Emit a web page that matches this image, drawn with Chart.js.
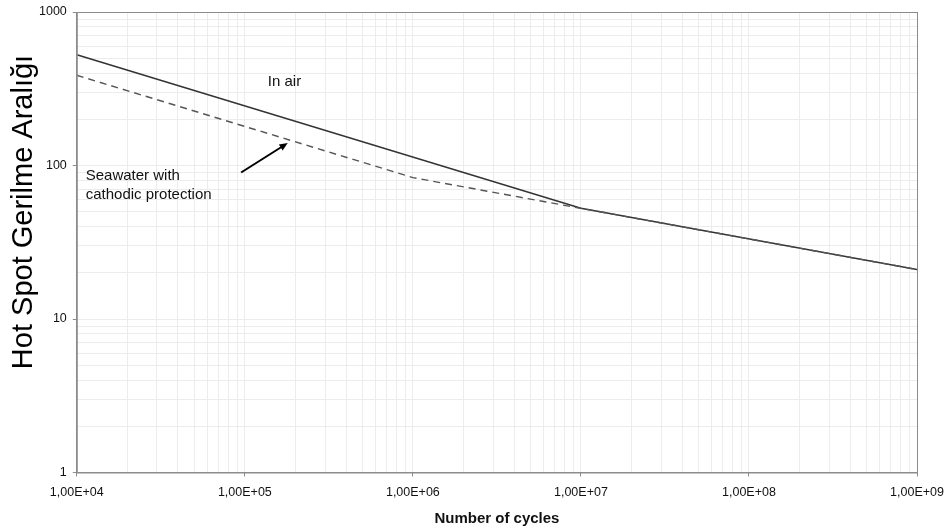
<!DOCTYPE html>
<html>
<head>
<meta charset="utf-8">
<script src="https://cdn.jsdelivr.net/npm/chart.js@4.4.1/dist/chart.umd.min.js"></script>
<style>
  html, body { margin: 0; padding: 0; background: #fff; }
  #wrap { width: 949px; height: 530px; }
</style>
</head>
<body>
<div id="wrap"><canvas id="myChart"></canvas></div>
<script>
// data (S-N curves, log-log)
const cyclesAir = [1e4, 1e7, 1e9];
const stressAir = [526, 52.6, 21];
const cyclesSea = [1e4, 1e6, 1e7, 1e9];
const stressSea = [387, 83.4, 52.6, 21];

const xDecades = [1e4, 1e5, 1e6, 1e7, 1e8, 1e9];
const xTickLabels = ['1,00E+04', '1,00E+05', '1,00E+06', '1,00E+07', '1,00E+08', '1,00E+09'];
const yDecades = [1, 10, 100, 1000];
const yTickLabels = ['1', '10', '100', '1000'];
const yTitle = 'Hot Spot Gerilme Aralığı';

// annotations, in data units
const airLabel = { text: 'In air', x: 1.37e5, y: 349 };
const seaLabel = { lines: ['Seawater with', 'cathodic protection'], x: 1.13e4, y: [85, 64] };
const arrowFrom = { x: 9.5e4, y: 90 };
const arrowTo = { x: 1.8e5, y: 140 };

const FONT = '"Liberation Sans", Arial, sans-serif';

function minorTicks(decades) {
    const out = [];
    for (let i = 0; i < decades.length; i++) {
        out.push({ value: decades[i] });
        if (i < decades.length - 1) {
            for (let k = 2; k <= 9; k++) out.push({ value: decades[i] * k });
        }
    }
    return out;
}

function isDecade(v) {
    const l = Math.log10(v);
    return Math.abs(l - Math.round(l)) < 1e-9;
}

const annotations = {
    id: 'annotations',
    afterDatasetsDraw(chart) {
        const ctx = chart.ctx;
        const xs = chart.scales.x, ys = chart.scales.y;
        const a = chart.chartArea;
        ctx.save();
        // plot frame
        ctx.strokeStyle = '#8c8c8c';
        ctx.lineWidth = 1;
        ctx.strokeRect(a.left + 0.5, a.top + 0.5, a.right - a.left, a.bottom - a.top);

        ctx.fillStyle = '#111';
        ctx.font = '15px ' + FONT;
        ctx.textBaseline = 'middle';
        ctx.textAlign = 'left';
        ctx.fillText(airLabel.text, xs.getPixelForValue(airLabel.x), ys.getPixelForValue(airLabel.y));
        seaLabel.lines.forEach((t, i) => {
            ctx.fillText(t, xs.getPixelForValue(seaLabel.x), ys.getPixelForValue(seaLabel.y[i]));
        });

        // arrow
        const x1 = xs.getPixelForValue(arrowFrom.x), y1 = ys.getPixelForValue(arrowFrom.y);
        const x2 = xs.getPixelForValue(arrowTo.x), y2 = ys.getPixelForValue(arrowTo.y);
        const ang = Math.atan2(y2 - y1, x2 - x1);
        ctx.strokeStyle = '#000';
        ctx.lineWidth = 2;
        ctx.beginPath();
        ctx.moveTo(x1, y1);
        ctx.lineTo(x2 - 6 * Math.cos(ang), y2 - 6 * Math.sin(ang));
        ctx.stroke();
        ctx.fillStyle = '#000';
        ctx.beginPath();
        ctx.moveTo(x2, y2);
        ctx.lineTo(x2 - 9 * Math.cos(ang - 0.4), y2 - 9 * Math.sin(ang - 0.4));
        ctx.lineTo(x2 - 9 * Math.cos(ang + 0.4), y2 - 9 * Math.sin(ang + 0.4));
        ctx.closePath();
        ctx.fill();

        // y axis title (sits a bit above centre, like the original)
        ctx.translate(32, 212);
        ctx.rotate(-Math.PI / 2);
        ctx.font = '29px ' + FONT;
        ctx.fillStyle = '#000';
        ctx.textAlign = 'center';
        ctx.textBaseline = 'alphabetic';
        ctx.fillText(yTitle, 0, 0);
        ctx.restore();
    }
};

const tickFont = { family: FONT, size: 12.5 };

new Chart(document.getElementById('myChart'), {
    type: 'line',
    data: {
        datasets: [{
            label: 'Seawater with cathodic protection',
            data: cyclesSea.map((c, i) => ({ x: c, y: stressSea[i] })),
            borderColor: '#555',
            borderWidth: 1.4,
            borderDash: [7, 5],
            pointRadius: 0,
            tension: 0
        }, {
            label: 'In air',
            data: cyclesAir.map((c, i) => ({ x: c, y: stressAir[i] })),
            borderColor: '#333',
            borderWidth: 1.5,
            pointRadius: 0,
            tension: 0
        }]
    },
    options: {
        responsive: true,
        maintainAspectRatio: false,
        animation: false,
        layout: { padding: { top: 12, right: 32, left: 33, bottom: 2.5 } },
        plugins: {
            legend: { display: false },
            tooltip: { enabled: false }
        },
        scales: {
            x: {
                type: 'logarithmic',
                min: 1e4,
                max: 1e9,
                afterBuildTicks: (s) => { s.ticks = minorTicks(xDecades); },
                afterFit: (s) => { s.paddingRight = 0; s.paddingLeft = 0; },
                ticks: {
                    autoSkip: false,
                    maxRotation: 0,
                    color: '#111',
                    font: tickFont,
                    padding: 8.5,
                    callback: (v) => {
                        const i = xDecades.indexOf(v);
                        return i >= 0 ? xTickLabels[i] : '';
                    }
                },
                grid: {
                    color: '#ececec',
                    tickLength: 4,
                    tickColor: (c) => (c.tick && isDecade(c.tick.value)) ? '#8c8c8c' : 'rgba(0,0,0,0)'
                },
                border: { color: '#8c8c8c' },
                title: {
                    display: true,
                    text: 'Number of cycles',
                    color: '#111',
                    font: { family: FONT, size: 15, weight: 'bold' },
                    padding: { top: 1, bottom: 0 }
                }
            },
            y: {
                type: 'logarithmic',
                min: 1,
                max: 1000,
                afterBuildTicks: (s) => { s.ticks = minorTicks(yDecades); },
                afterFit: (s) => { s.paddingTop = 0; s.paddingBottom = 0; },
                ticks: {
                    autoSkip: false,
                    color: '#111',
                    font: tickFont,
                    padding: 6,
                    callback: (v) => {
                        const i = yDecades.indexOf(v);
                        return i >= 0 ? yTickLabels[i] : '';
                    }
                },
                grid: {
                    color: '#ececec',
                    tickLength: 4,
                    tickColor: (c) => (c.tick && isDecade(c.tick.value)) ? '#8c8c8c' : 'rgba(0,0,0,0)'
                },
                border: { color: '#8c8c8c' }
            }
        }
    },
    plugins: [annotations]
});
</script>
</body>
</html>
